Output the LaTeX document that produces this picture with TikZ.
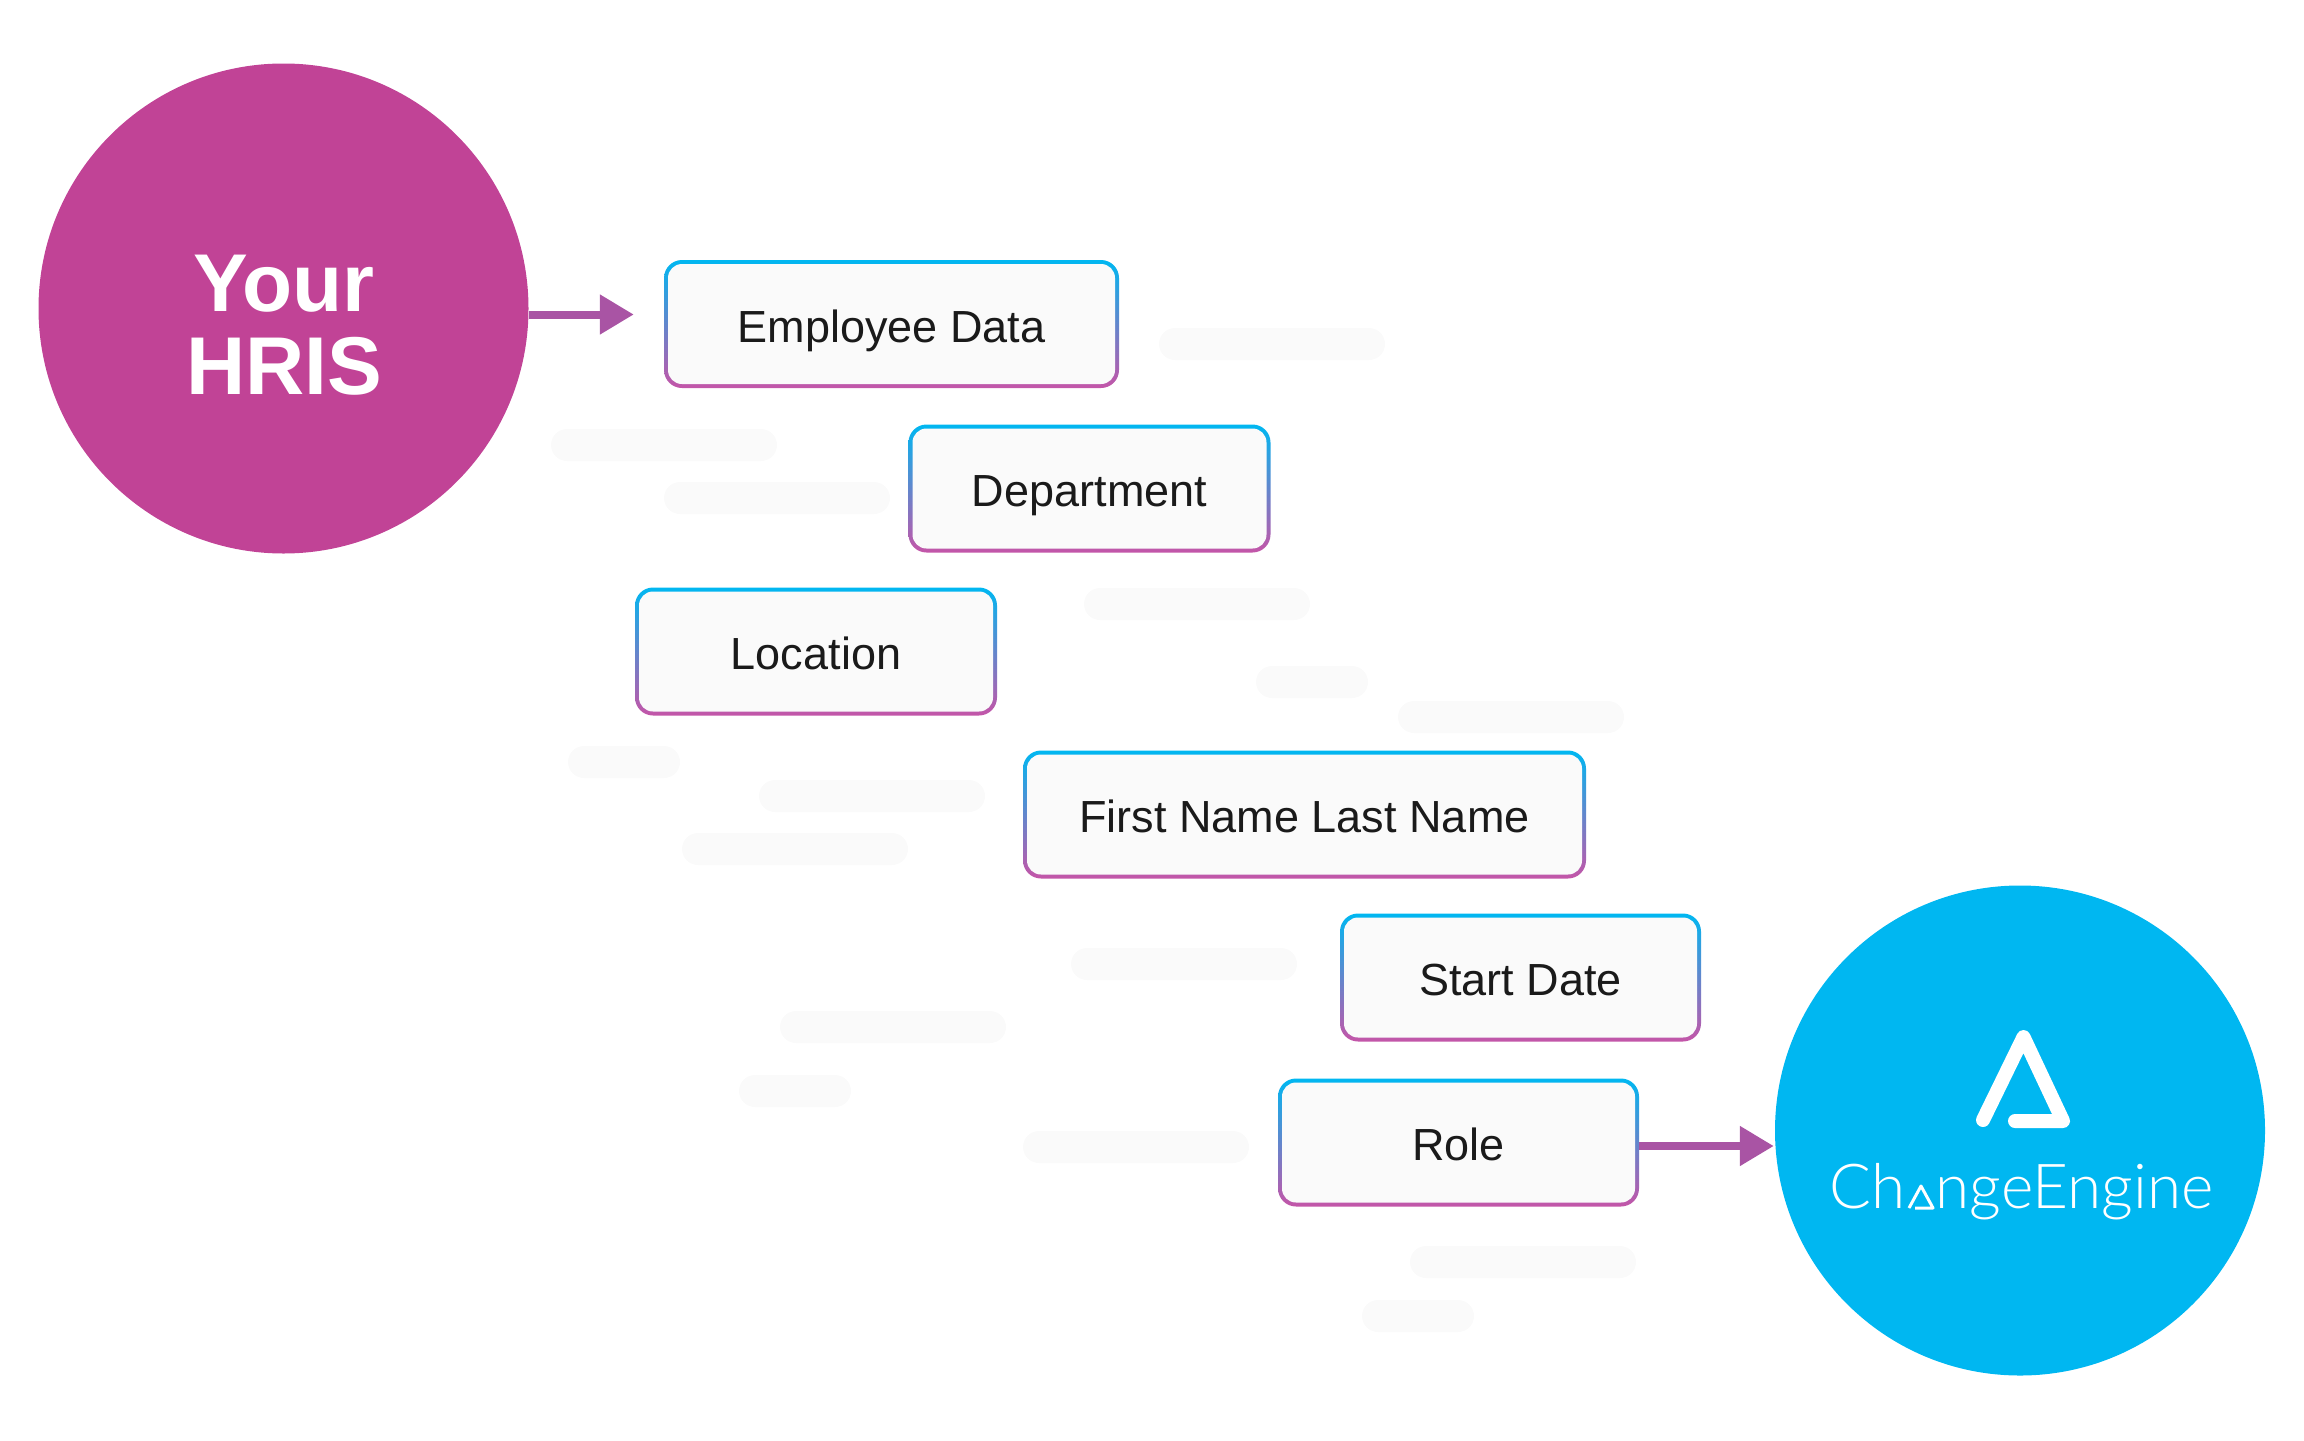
\documentclass[tikz,border=0pt]{standalone}
\usepackage{xcolor}
\usepackage{fontspec}
\usepackage{tikz}
\usetikzlibrary{arrows.meta}
\setmainfont{Liberation Sans}
\newfontfamily\logofont{Lato Light}
\definecolor{hrispink}{HTML}{C14396}
\definecolor{cefill}{HTML}{00B7F1}
\definecolor{edgepink}{HTML}{C455A8}
\definecolor{flowpurple}{HTML}{A954A4}
\definecolor{boxfill}{HTML}{FAFAFA}
\definecolor{boxtext}{HTML}{1A1A1A}
\tikzset{
  bigcircle/.style={circle,minimum size=490pt,inner sep=0pt,text=white},
  fieldbox/.style={rectangle,rounded corners=18pt,minimum height=128pt,inner sep=0pt,
    top color=cefill,bottom color=edgepink,text=boxtext,
    font=\fontsize{45}{52}\selectfont,text height=36pt,text depth=0pt,
    path picture={\fill[boxfill,rounded corners=14pt]
      ([xshift=4pt,yshift=-4pt]path picture bounding box.north west) rectangle
      ([xshift=-4pt,yshift=4pt]path picture bounding box.south east);}},
  pill/.style={rectangle,rounded corners=16pt,minimum height=32pt,inner sep=0pt,fill=boxfill},
  flow/.style={draw=flowpurple,line width=8pt,-{Triangle[length=34pt,width=38pt]}}
}

\begin{document}
\begin{tikzpicture}[x=1pt,y=-1pt]
        \useasboundingbox (0,0) rectangle (2304,1440);
        % faint bars behind the boxes
        \foreach \x/\y/\w [count=\i] in {1272/344/226,664/445/226,777/498/226,1197/604/226,
            1312/682/112,1511/717/226,624/762/112,872/796/226,795/849/226,1184/964/226,
            893/1027/226,795/1091/112,1136/1147/226,1523/1262/226,1418/1316/112}
          \node[pill,minimum width=\w pt] (bar\i) at (\x,\y) {};
        \node[bigcircle,fill=hrispink] (hris) at (283.5,308.5) {};
        \node[text=white,font=\fontsize{82}{83}\selectfont\bfseries,align=center,inner sep=0pt]
          (hristext) at (284,325) {Your\\HRIS};
        \node[bigcircle,fill=cefill] (engine) at (2020,1130.5) {};
        \begin{scope}[every node/.style={fieldbox}]
          \node[minimum width=455pt] (employee) at (891.5,324) {Employee Data};
          \node[minimum width=362pt] (department) at (1089.5,488.5) {Department};
          \node[minimum width=362pt] (location) at (816,651.5) {Location};
          \node[minimum width=563pt] (fullname) at (1304.5,814.5) {First Name Last Name};
          \node[minimum width=361pt] (startdate) at (1520.5,977.5) {Start Date};
          \node[minimum width=361pt] (role) at (1458.5,1142.5) {Role};
        \end{scope}
        \path[flow,shorten >=30pt] ([yshift=-6pt]hris.east) -- ([yshift=-6pt]hris.east -| employee.west);
        \path[flow,shorten >=1pt] ([yshift=-3.5pt]role.east) -- ([yshift=-3.5pt]role.east -| engine.west);
        % logo mark and word
        \draw[white,line width=14pt,line cap=round,line join=round]
          (1983,1120) -- (2023.5,1037) -- (2063,1121) -- (2015,1121);
        \node[text=white,font=\logofont\fontsize{62}{62}\selectfont,inner sep=0pt] (word) at (2021.5,1192)
          {Ch{\color{cefill}a}ngeEngine};
        \draw[white,line width=3pt,line join=round]
          (1909,1208) -- (1921,1186) -- (1933,1208) -- (1915,1208);
\end{tikzpicture}
\end{document}
